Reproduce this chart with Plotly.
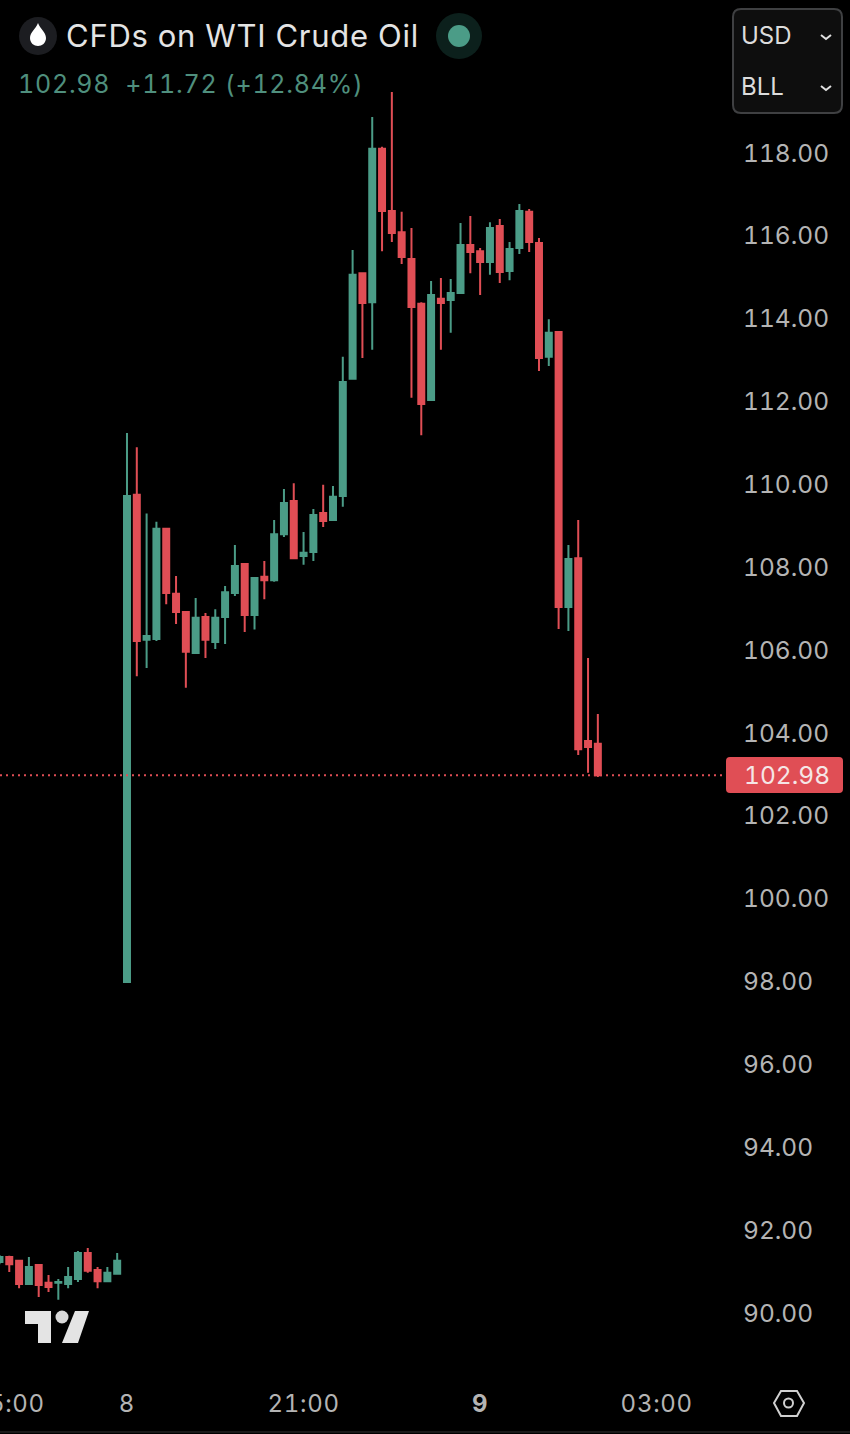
import plotly.graph_objects as go

bar_index = list(range(-13, 49))
opens = [91.23, 91.35, 91.26, 90.70, 91.16, 90.73, 90.73, 90.70, 90.82, 91.45, 91.04, 90.77, 90.95,
         97.99, 109.75, 106.25, 106.27, 108.93, 107.36, 106.92, 105.93, 106.80, 106.20, 106.80, 107.38,
         108.08, 106.85, 107.77, 107.69, 108.80, 109.60, 108.27, 108.37, 109.31, 109.14, 109.72, 112.55,
         115.10, 114.40, 118.10, 116.60, 116.09, 115.44, 114.36, 112.04, 114.48, 114.45, 114.62, 115.78,
         115.63, 115.37, 116.24, 115.15, 115.71, 116.58, 115.83, 113.08, 113.68, 107.04, 108.22, 103.81, 103.74]
highs = [91.40, 91.38, 91.28, 91.35, 91.16, 90.92, 90.82, 91.11, 91.50, 91.57, 91.11, 91.11, 91.45,
         111.24, 110.90, 109.30, 109.10, 108.93, 107.79, 106.92, 107.26, 106.90, 106.99, 107.55, 108.54,
         108.08, 107.74, 108.15, 109.14, 109.89, 110.03, 108.85, 109.41, 109.99, 109.96, 113.08, 115.66,
         115.10, 118.87, 118.15, 119.47, 116.58, 116.19, 114.40, 114.91, 114.98, 114.96, 116.31, 116.48,
         115.71, 116.33, 116.41, 115.85, 116.77, 116.65, 115.95, 113.99, 113.68, 108.54, 109.14, 105.81, 104.46]
lows = [91.18, 90.99, 90.60, 90.68, 90.39, 90.51, 90.32, 90.60, 90.75, 90.97, 90.60, 90.75, 90.95,
        97.99, 105.37, 105.57, 106.22, 107.11, 106.63, 105.09, 105.91, 105.81, 106.03, 106.15, 107.31,
        106.44, 106.50, 107.23, 107.65, 108.73, 108.20, 108.06, 108.15, 108.97, 109.12, 109.46, 112.55,
        113.05, 113.25, 115.63, 115.85, 115.32, 112.09, 111.19, 112.04, 113.25, 113.66, 114.60, 115.10,
        114.57, 115.06, 114.86, 114.93, 115.56, 115.61, 112.74, 112.86, 106.51, 106.46, 103.47, 103.04, 102.94]
closes = [91.35, 91.18, 90.70, 91.11, 90.68, 90.63, 90.75, 90.87, 91.45, 91.02, 90.77, 90.97, 91.26,
          109.72, 106.22, 106.34, 108.93, 107.38, 106.92, 105.96, 106.78, 106.25, 106.78, 107.40, 108.03,
          106.85, 107.74, 107.69, 108.80, 109.55, 108.22, 108.35, 109.26, 109.12, 109.70, 112.47, 115.06,
          114.38, 118.10, 116.60, 116.07, 115.49, 114.28, 111.94, 114.57, 114.38, 114.62, 115.78, 115.61,
          115.37, 116.19, 115.13, 115.68, 116.60, 115.85, 113.05, 113.66, 107.04, 108.20, 103.61, 103.66, 102.98]

price_ticks = [90, 92, 94, 96, 98, 100, 102, 104, 106, 108, 110, 112, 114, 116, 118]
time_tick_index = [0, 18, 36, 54]
time_tick_text = ["8", "21:00", "<b>9</b>", "03:00"]
clipped_tick_index = -12
clipped_tick_text = "15:00"
title_text = "CFDs on WTI Crude Oil"
change_text = "102.98  +11.72 (+12.84%)"

GREEN = "#4b9c87"
RED = "#e04e55"
FONT = "Inter, Roboto, sans-serif"
W, H, PLOT_W, PLOT_H = 850, 1434, 724, 1380


def pxx(x):
    return x / PLOT_W


def pxy(y):
    return 1 - y / PLOT_H


def path(points, close=True):
    s = "M " + " L ".join(f"{pxx(x):.5f} {pxy(y):.5f}" for x, y in points)
    return s + (" Z" if close else "")


def circle(cx, cy, r, color):
    return dict(type="circle", xref="paper", yref="paper", layer="above",
                x0=pxx(cx - r), x1=pxx(cx + r), y0=pxy(cy + r), y1=pxy(cy - r),
                fillcolor=color, line=dict(width=0))


def poly(points, color):
    return dict(type="path", xref="paper", yref="paper", layer="above", path=path(points),
                fillcolor=color, line=dict(width=0))


def stroke(points, color, width=2, close=False, fill="rgba(0,0,0,0)"):
    return dict(type="path", xref="paper", yref="paper", layer="above", path=path(points, close),
                fillcolor=fill, line=dict(color=color, width=width))


def rounded(x0, y0, x1, y1, r):
    X, Y = pxx, pxy
    return (f"M {X(x0+r)} {Y(y0)} L {X(x1-r)} {Y(y0)} Q {X(x1)} {Y(y0)} {X(x1)} {Y(y0+r)} "
            f"L {X(x1)} {Y(y1-r)} Q {X(x1)} {Y(y1)} {X(x1-r)} {Y(y1)} L {X(x0+r)} {Y(y1)} "
            f"Q {X(x0)} {Y(y1)} {X(x0)} {Y(y1-r)} L {X(x0)} {Y(y0+r)} Q {X(x0)} {Y(y0)} {X(x0+r)} {Y(y0)} Z")


def label(x, y, text, size, color):
    return dict(xref="paper", yref="paper", x=pxx(x), y=pxy(y), text=text, showarrow=False, align="left",
                xanchor="left", yanchor="middle", font=dict(family=FONT, size=size, color=color))


fig = go.Figure(go.Candlestick(
    x=bar_index, open=opens, high=highs, low=lows, close=closes,
    increasing=dict(line=dict(color=GREEN, width=2), fillcolor=GREEN),
    decreasing=dict(line=dict(color=RED, width=2), fillcolor=RED),
    hoverinfo="skip", showlegend=False,
))

drop = (f"M {pxx(38)} {pxy(23)} C {pxx(40)} {pxy(29)} {pxx(46)} {pxy(32)} {pxx(46)} {pxy(38)} "
        f"C {pxx(46)} {pxy(43)} {pxx(42)} {pxy(46)} {pxx(38)} {pxy(46)} "
        f"C {pxx(34)} {pxy(46)} {pxx(30)} {pxy(43)} {pxx(30)} {pxy(38)} "
        f"C {pxx(30)} {pxy(32)} {pxx(36)} {pxy(29)} {pxx(38)} {pxy(23)} Z")

shapes = [
    dict(type="line", xref="x domain", yref="y", x0=0, x1=1, y0=closes[-1], y1=closes[-1], layer="above",
         line=dict(color=RED, width=2, dash="2px,4px")),
    dict(type="path", xref="paper", yref="paper", layer="above", path=rounded(726, 757, 843, 793, 4),
         fillcolor=RED, line=dict(width=0)),
    circle(38, 36, 19, "#1c1d21"),
    dict(type="path", xref="paper", yref="paper", layer="above", path=drop, fillcolor="#ffffff", line=dict(width=0)),
    circle(459, 36, 23, "#0c201c"),
    circle(459, 36, 11, GREEN),
    dict(type="path", xref="paper", yref="paper", layer="above", path=rounded(733, 9, 842, 113, 8),
         fillcolor="#0e0e0e", line=dict(color="#3f4042", width=2)),
    stroke([(821, 35), (826, 39), (831, 35)], "#e0e0e0", 2),
    stroke([(821, 86), (826, 90), (831, 86)], "#e0e0e0", 2),
    poly([(25, 1311), (51, 1311), (51, 1343), (38, 1343), (38, 1324), (25, 1324)], "#e4e4e4"),
    circle(62, 1317, 6.5, "#d8d8d8"),
    poly([(75, 1311), (89, 1311), (78, 1343), (62, 1343)], "#e4e4e4"),
    stroke([(774, 1403), (781, 1391), (797, 1391), (804, 1403), (797, 1416), (781, 1416)], "#d0d0d0", 2, close=True),
    dict(type="circle", xref="paper", yref="paper", layer="above", x0=pxx(784), x1=pxx(793), y0=pxy(1407.5), y1=pxy(1398.5),
         fillcolor="rgba(0,0,0,0)", line=dict(color="#d0d0d0", width=2)),
    stroke([(0, 1432), (850, 1432)], "#333333", 1),
]

annotations = [
    label(64, 36, title_text, 31, "#e4e4e4"),
    label(16, 84, change_text.replace("  ", "&nbsp;&nbsp;"), 25, "#4f8f7d"),
    label(739, 36, "USD", 24, "#dcdcdc"),
    label(739, 87, "BLL", 24, "#dcdcdc"),
    label(742, 775, f"{closes[-1]:.2f}", 24.5, "#f5e6e6"),
    dict(xref="x", yref="paper", x=clipped_tick_index, y=pxy(1403), text=clipped_tick_text, showarrow=False,
         xanchor="center", yanchor="middle", font=dict(family=FONT, size=24, color="#b4b4b4")),
]

fig.update_layout(
    width=W, height=H, margin=dict(l=0, r=W - PLOT_W, t=0, b=H - PLOT_H, pad=0),
    paper_bgcolor="#000000", plot_bgcolor="#000000", boxgap=0.39, boxgroupgap=0,
    showlegend=False, hovermode=False, shapes=shapes, annotations=annotations,
    xaxis=dict(range=[-12.946, 60.86], rangeslider=dict(visible=False), showgrid=False, zeroline=False,
               showline=False, ticks="", tickmode="array", tickvals=time_tick_index, ticktext=time_tick_text,
               tickfont=dict(family=FONT, size=24, color="#b4b4b4"), ticklabelstandoff=7, fixedrange=True),
    yaxis=dict(range=[88.384, 121.693], side="right", showgrid=False, zeroline=False, showline=False, ticks="",
               tickmode="array", tickvals=price_ticks, ticktext=[f"{v:.2f}" for v in price_ticks],
               tickfont=dict(family=FONT, size=24.5, color="#b4b4b4"), ticklabelstandoff=18, fixedrange=True),
)

number_style_script = """
document.body.style.margin='0';
document.body.style.background='#000';
document.querySelectorAll('.ytick text, .xtick text, .annotation-text').forEach(function(t){
  t.style.fontVariantNumeric='tabular-nums';
  t.style.fontFeatureSettings='"tnum"';
  var s=t.textContent;
  if(s.indexOf('WTI')>=0){t.style.letterSpacing='0.75px';}
  if(s.indexOf('+11.72')>=0){t.style.letterSpacing='0.75px';}
  if(s==='15:00'||t.closest('.xtick')){t.style.letterSpacing='0.7px';}
});
"""

fig.write_html("out.html", config=dict(displayModeBar=False), post_script=number_style_script)
